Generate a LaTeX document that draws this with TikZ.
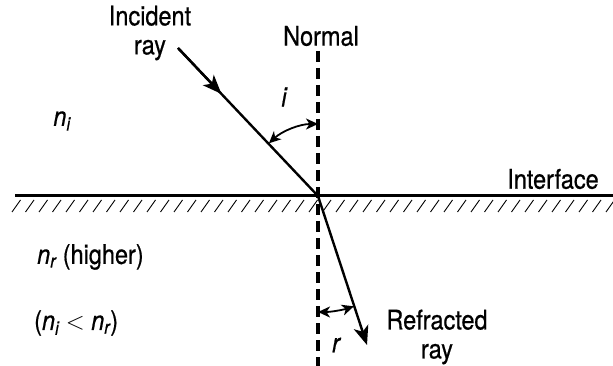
\documentclass[tikz,border=0pt]{standalone}
\usepackage{fontspec}
\setmainfont{TeX Gyre Heros}[FakeStretch=0.87,FakeBold=0.6]
\usetikzlibrary{arrows.meta,calc}
\newcommand\idxv[2]{{\itshape #1\textsubscript{#2}}}
\tikzset{
  ray/.style={line width=2.4pt},
  bigtip/.style={-{Stealth[length=19pt,width=15pt,inset=5pt]}},
  anglearc/.style={line width=1.8pt,{Stealth[length=12pt,width=11pt,inset=3.5pt]}-{Stealth[length=12pt,width=11pt,inset=3.5pt]}},
  lbl/.style={inner sep=0pt,font=\fontsize{27}{29}\selectfont},
}
\begin{document}
\begin{tikzpicture}[x=1pt,y=-1pt]
\useasboundingbox (0,0) rectangle (613,366);
\coordinate (O) at (318,196);
\coordinate (Ls) at (15,196);
\coordinate (Re) at (613,196);
\coordinate (Ntop) at (318,51);
\coordinate (Nbot) at (318,366);
\coordinate (Is) at (178,48);
\coordinate (Rend) at (367,345);
% interface
\draw[line width=3pt] (Ls) -- (Re);
\foreach \x in {12,25.5,...,613} \draw[line width=0.9pt] (\x,212) -- ++(8.5,-12);
% normal
\draw[line width=3.4pt, dash pattern=on 11pt off 6pt] (Ntop) -- (Nbot);
% incident ray
\draw[ray] (Is) -- (O);
\draw[ray,bigtip] (Is) -- ($(Is)!0.31!(O)$);
% refracted ray
\draw[ray,bigtip] (O) -- (Rend);
% angle arcs
\draw[anglearc] ($(O)+(-133:72)$) arc[start angle=-133,end angle=-90,radius=72];
\draw[anglearc] ($(O)+(90:116)$) arc[start angle=90,end angle=72,radius=116];
% labels
\node[lbl,align=center] (inc) at (150,33) {Incident\\ray};
\node[lbl] (nor) at (321,36) {Normal};
\node[lbl] (ilab) at (284,97) {\itshape i};
\node[lbl] (ni) at (62,121) {\idxv{n}{i}};
\node[lbl] (intf) at (553,179) {Interface};
\node[lbl,anchor=west] (nr) at (37,257) {\idxv{n}{r} (higher)};
\node[lbl,anchor=west] (cmp) at (34,323) {(\idxv{n}{i} {\fontsize{24}{24}\selectfont$<$} \idxv{n}{r})};
\node[lbl] (rlab) at (336,345) {\itshape r};
\node[lbl,align=center] (refr) at (437,337) {Refracted\\ray};
\end{tikzpicture}
\end{document}
